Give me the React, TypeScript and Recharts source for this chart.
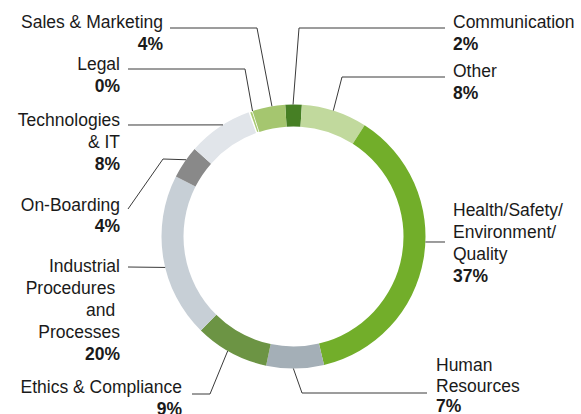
import React from 'react';
import { PieChart, Pie, Cell } from 'recharts';

// categories clockwise from the top, "\n" = line break in the label
const categories = [
  'Communication',
  'Other',
  'Health/Safety/\nEnvironment/\nQuality',
  'Human\nResources',
  'Ethics & Compliance',
  'Industrial\nProcedures \nand \nProcesses',
  'On-Boarding',
  'Technologies\n& IT',
  'Legal',
  'Sales & Marketing',
];

// share in % (Legal is a thin sliver that rounds to 0%)
const shares = [2, 8, 37, 7, 9, 20, 4, 8, 0.4, 4];

const colors = [
  '#467f24',
  '#c1d99d',
  '#72ae2a',
  '#a4afb7',
  '#6c9444',
  '#c7cfd6',
  '#898989',
  '#e1e5ea',
  '#a8ca70',
  '#a5c66f',
];

type LabelLayout = {
  x: number;
  y: number;
  anchor: 'start' | 'end';
  end: [number, number];
  corner?: [number, number];
  at: number; // where along the slice the leader touches the ring
  lh?: number;
};

const labelLayout: LabelLayout[] = [
  { x: 453, y: 28, anchor: 'start', end: [445, 28], corner: [299, 28], at: 0.47 },
  { x: 453, y: 77, anchor: 'start', end: [445, 77], corner: [342, 77], at: 0.48 },
  { x: 453, y: 216, anchor: 'start', end: [445, 242], at: 0.446 },
  { x: 436, y: 371, anchor: 'start', end: [427, 393], corner: [302, 393], at: 0.53, lh: 20.5 },
  { x: 182, y: 393, anchor: 'end', end: [192, 394], corner: [210, 394], at: 0.55 },
  { x: 120, y: 272, anchor: 'end', end: [128, 267], at: 0.44 },
  { x: 120, y: 211, anchor: 'end', end: [128, 209], corner: [163, 159], at: 0.59, lh: 21 },
  { x: 120, y: 126, anchor: 'end', end: [128, 125], at: 0.56 },
  { x: 120, y: 70, anchor: 'end', end: [128, 69], corner: [245, 69], at: 1 },
  { x: 163, y: 28, anchor: 'end', end: [170, 28], corner: [257, 28], at: 0.6 },
];

const data = categories.map((name, i) => ({ name, value: shares[i] }));

const RAD = Math.PI / 180;
const FONT = '"Liberation Sans", Arial, sans-serif';

const renderLabel = (props: any) => {
  const { cx, cy, outerRadius, startAngle, endAngle, index, value } = props;
  const lay = labelLayout[index];
  const a = startAngle + lay.at * (endAngle - startAngle);
  const rx = cx + outerRadius * Math.cos(a * RAD);
  const ry = cy - outerRadius * Math.sin(a * RAD);
  const pts = [[rx, ry], ...(lay.corner ? [lay.corner] : []), lay.end];
  const lines = categories[index].split('\n');
  const lh = lay.lh ?? 22;

  return (
    <g key={`lbl-${index}`}>
      <polyline
        points={pts.map(p => p.join(',')).join(' ')}
        fill="none"
        stroke="#3a3a3a"
        strokeWidth={1}
      />
      <text
        x={lay.x}
        y={lay.y}
        textAnchor={lay.anchor}
        fontFamily={FONT}
        fontSize={17.5}
        fill="#1a1a1a"
        style={{ whiteSpace: 'pre' }}
      >
        {lines.map((l, k) => (
          <tspan key={k} x={lay.x} y={lay.y + k * lh}>
            {l}
          </tspan>
        ))}
        <tspan x={lay.x} y={lay.y + lines.length * lh} fontWeight="bold">
          {Math.round(value)}%
        </tspan>
      </text>
    </g>
  );
};

export default function App() {
  return (
    <div style={{ position: 'absolute', left: 0, top: 0, width: 581, height: 414, background: '#fff' }}>
      <PieChart width={581} height={414} margin={{ top: 0, right: 0, bottom: 0, left: 0 }}>
        <Pie
          data={data}
          dataKey="value"
          nameKey="name"
          cx={293.5}
          cy={236.5}
          innerRadius={110}
          outerRadius={132}
          startAngle={93.6}
          endAngle={-266.4}
          stroke="none"
          label={renderLabel}
          labelLine={false}
          isAnimationActive={false}
        >
          {data.map((d, i) => (
            <Cell
              key={d.name}
              fill={colors[i]}
              stroke={i === 8 ? '#fff' : 'none'}
              strokeWidth={1.5}
            />
          ))}
        </Pie>
      </PieChart>
    </div>
  );
}
